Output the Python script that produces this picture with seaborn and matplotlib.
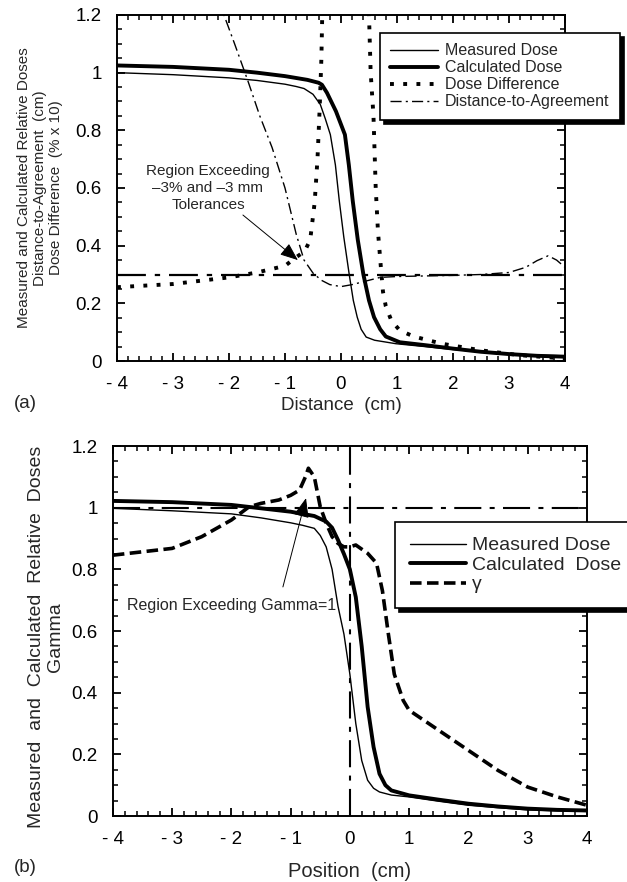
import matplotlib
matplotlib.use("Agg")
import matplotlib.pyplot as plt
import seaborn as sns
from matplotlib.ticker import MultipleLocator, FuncFormatter

# ---- panel (a): distance
meas_a_x = [-4, -3, -2, -1.5, -1, -0.8, -0.66, -0.5, -0.37, -0.28, -0.19, -0.1, -0.03, 0.05, 0.147, 0.22, 0.29,
            0.36, 0.45, 0.6, 0.98, 1.5, 2, 2.5, 3, 3.5, 4]
meas_a_y = [1.0, 0.993, 0.982, 0.973, 0.96, 0.952, 0.945, 0.925, 0.89, 0.84, 0.785, 0.68, 0.555, 0.43, 0.30, 0.21,
            0.152, 0.11, 0.083, 0.072, 0.06, 0.05, 0.04, 0.032, 0.025, 0.02, 0.018]

calc_a_x = [-4, -3, -2, -1.5, -1, -0.6, -0.4, -0.34, -0.25, -0.09, 0.07, 0.14, 0.21, 0.3, 0.4, 0.5, 0.59, 0.7,
            0.8, 1.05, 1.5, 2, 2.5, 3, 3.5, 4]
calc_a_y = [1.025, 1.02, 1.01, 1.0, 0.988, 0.975, 0.965, 0.958, 0.93, 0.866, 0.785, 0.68, 0.555, 0.42, 0.30, 0.21,
            0.152, 0.11, 0.085, 0.065, 0.055, 0.043, 0.032, 0.024, 0.018, 0.015]

diff_x = [-4, -3, -2, -1.5, -1, -0.8, -0.65, -0.55, -0.47, -0.42, -0.38, -0.35, -0.33, -0.3,
          0.47, 0.5, 0.53, 0.58, 0.62, 0.66, 0.71, 0.75, 0.8, 0.9, 1.05, 1.3, 1.8, 2.5, 3.2, 3.9, 4]
diff_y = [0.256, 0.267, 0.29, 0.307, 0.33, 0.36, 0.38, 0.42, 0.55, 0.7, 0.88, 1.05, 1.25, 2.5,
          2.5, 1.2, 1.0, 0.85, 0.6, 0.45, 0.33, 0.24, 0.19, 0.14, 0.106, 0.085, 0.06, 0.037, 0.02, 0.01, 0.01]

dta_x = [-2.25, -2.09, -1.9, -1.66, -1.45, -1.23, -1.0, -0.8, -0.66, -0.5, -0.35, -0.2, 0, 0.2, 0.5, 0.7, 1.0,
         1.5, 2.0, 2.5, 3.0, 3.3, 3.5, 3.7, 3.85, 4]
dta_y = [1.4, 1.2, 1.1, 0.97, 0.85, 0.74, 0.6, 0.44, 0.35, 0.305, 0.28, 0.265, 0.258, 0.265, 0.28, 0.29, 0.293,
         0.295, 0.297, 0.3, 0.307, 0.325, 0.348, 0.365, 0.35, 0.325]
tolerance = 0.3

# ---- panel (b): position
meas_b_x = [-4, -3, -2, -1.5, -1, -0.8, -0.6, -0.5, -0.4, -0.3, -0.2, -0.1, 0, 0.1, 0.2, 0.3, 0.4, 0.5, 0.7, 1,
            1.5, 2, 2.5, 3, 3.5, 4]
meas_b_y = [0.998, 0.99, 0.98, 0.967, 0.951, 0.943, 0.933, 0.91, 0.873, 0.8, 0.68, 0.59, 0.46, 0.3, 0.18, 0.116,
            0.09, 0.078, 0.068, 0.062, 0.048, 0.035, 0.027, 0.02, 0.017, 0.015]

calc_b_x = [-4, -3, -2, -1.5, -1, -0.6, -0.4, -0.3, -0.2, -0.1, 0, 0.1, 0.2, 0.3, 0.4, 0.5, 0.6, 0.7, 1, 1.5, 2,
            2.5, 3, 3.5, 4]
calc_b_y = [1.022, 1.018, 1.009, 0.998, 0.987, 0.973, 0.955, 0.935, 0.895, 0.85, 0.8, 0.71, 0.55, 0.354, 0.224,
            0.137, 0.1, 0.083, 0.067, 0.053, 0.04, 0.031, 0.024, 0.02, 0.018]

gamma_x = [-4, -3, -2.5, -2, -1.7, -1.5, -1.2, -1, -0.85, -0.75, -0.7, -0.6, -0.5, -0.4, -0.3, -0.2, -0.1, 0, 0.1,
           0.3, 0.45, 0.55, 0.65, 0.75, 0.9, 1, 1.5, 2, 2.5, 3, 3.5, 4]
gamma_y = [0.846, 0.868, 0.906, 0.96, 1.003, 1.014, 1.025, 1.04, 1.057, 1.1, 1.128, 1.1, 1.003, 0.95, 0.906, 0.884,
           0.873, 0.873, 0.879, 0.852, 0.82, 0.73, 0.59, 0.46, 0.375, 0.343, 0.278, 0.213, 0.148, 0.094, 0.062, 0.035]
gamma_ref = 1.0
pos_ref = 0.0

sns.set_theme(style="ticks")
plt.rcParams['font.family'] = ['Liberation Sans', 'DejaVu Sans']
plt.rcParams['axes.linewidth'] = 1.4

fig = plt.figure(figsize=(6.27, 8.82), dpi=100)
ax1 = fig.add_axes([0.1866, 0.5907, 0.7145, 0.3923])
ax2 = fig.add_axes([0.180, 0.0748, 0.756, 0.4195])

dotted = (0, (1, 2.4))
dashdot = (0, (8, 3, 1.5, 3))
refdash = (0, (13, 4, 2.4, 4))
shadow = {'ox': 3, 'oy': -3, 'color': 'black', 'alpha': 1}


def style_axes(ax, pad):
    ax.set_xlim(-4, 4)
    ax.set_ylim(0, 1.2)
    ax.xaxis.set_major_locator(MultipleLocator(1))
    ax.xaxis.set_minor_locator(MultipleLocator(0.2))
    ax.yaxis.set_major_locator(MultipleLocator(0.2))
    ax.yaxis.set_minor_locator(MultipleLocator(0.05))
    ax.xaxis.set_major_formatter(FuncFormatter(lambda v, p: f"- {abs(int(round(v)))}" if v < 0 else f"{int(round(v))}"))
    ax.yaxis.set_major_formatter(FuncFormatter(lambda v, p: "0" if abs(v) < 1e-9 else ("1" if abs(v - 1) < 1e-9 else f"{v:.1f}")))
    ax.tick_params(which='both', direction='in', top=True, right=True, colors='black')
    ax.tick_params(which='major', length=6, width=1.3, labelsize=13.5, pad=pad)
    ax.tick_params(which='minor', length=3.5, width=1.1)
    for s in ax.spines.values():
        s.set_color('black')


# ---- (a)
sns.lineplot(x=meas_a_x, y=meas_a_y, ax=ax1, color='black', lw=1.0, sort=False, label='Measured Dose')
sns.lineplot(x=calc_a_x, y=calc_a_y, ax=ax1, color='black', lw=2.8, sort=False, label='Calculated Dose')
sns.lineplot(x=diff_x, y=diff_y, ax=ax1, color='black', lw=2.8, linestyle=dotted, sort=False,
             label='Dose Difference')
sns.lineplot(x=dta_x, y=dta_y, ax=ax1, color='black', lw=1.0, linestyle=dashdot, sort=False,
             label='Distance-to-Agreement')
ax1.axhline(tolerance, color='black', lw=1.6, linestyle=refdash)
style_axes(ax1, 11)
ax1.set_xlabel('Distance  (cm)', fontsize=13.5, labelpad=3)
ax1.set_ylabel('')
ax1.annotate('Region Exceeding\n–3% and –3 mm\nTolerances', xy=(-0.77, 0.35), xytext=(-2.375, 0.6),
             ha='center', va='center', fontsize=11, linespacing=1.25,
             arrowprops=dict(arrowstyle='-|>,head_length=1.0,head_width=0.4', color='black', lw=0.7,
                             shrinkA=0, shrinkB=0, relpos=(0.75, 0.0)))
leg1 = ax1.legend(loc='upper left', bbox_to_anchor=(0.606, 0.9626), bbox_transform=fig.transFigure,
                  fontsize=11.5, handlelength=3.0, handletextpad=0.4, labelspacing=0.12, borderpad=0.65,
                  borderaxespad=0, fancybox=False, framealpha=1, edgecolor='black', shadow=shadow)
leg1.get_frame().set_linewidth(1.2)
fig.text(0.0638, 0.787, 'Measured and Calculated Relative Doses\nDistance-to-Agreement  (cm)\nDose Difference  (% x 10)',
         rotation=90, ha='center', va='center', fontsize=11, linespacing=1.15)
fig.text(0.022, 0.543, '(a)', fontsize=13.5, va='center')

# ---- (b)
sns.lineplot(x=meas_b_x, y=meas_b_y, ax=ax2, color='black', lw=1.0, sort=False, label='Measured Dose')
sns.lineplot(x=calc_b_x, y=calc_b_y, ax=ax2, color='black', lw=2.8, sort=False, label='Calculated  Dose')
sns.lineplot(x=gamma_x, y=gamma_y, ax=ax2, color='black', lw=2.6, linestyle=(0, (3.2, 1.5)), sort=False,
             label='γ')
ax2.axhline(gamma_ref, color='black', lw=1.5, linestyle=refdash)
ax2.axvline(pos_ref, color='black', lw=1.5, linestyle=refdash)
style_axes(ax2, 11)
ax2.set_xlabel('Position  (cm)', fontsize=14.5, labelpad=10)
ax2.set_ylabel('')
ax2.annotate('', xy=(-0.74, 1.031), xytext=(-1.13, 0.743),
             arrowprops=dict(arrowstyle='-|>,head_length=1.0,head_width=0.4', color='black', lw=0.7,
                             shrinkA=0, shrinkB=0))
ax2.text(-3.76, 0.684, 'Region Exceeding Gamma=1', ha='left', va='center', fontsize=11.5)
leg2 = ax2.legend(loc='upper left', bbox_to_anchor=(0.630, 0.408), bbox_transform=fig.transFigure,
                  fontsize=14, handlelength=2.9, handletextpad=0.3, labelspacing=0.1, borderpad=0.75,
                  borderaxespad=0, fancybox=False, framealpha=1, edgecolor='black', shadow=shadow)
leg2.get_frame().set_linewidth(1.2)
fig.text(0.0734, 0.278, 'Measured  and  Calculated  Relative  Doses\nGamma',
         rotation=90, ha='center', va='center', fontsize=14, linespacing=1.2)
fig.text(0.022, 0.016, '(b)', fontsize=13.5, va='center')

fig.savefig('out.png', dpi=100)
